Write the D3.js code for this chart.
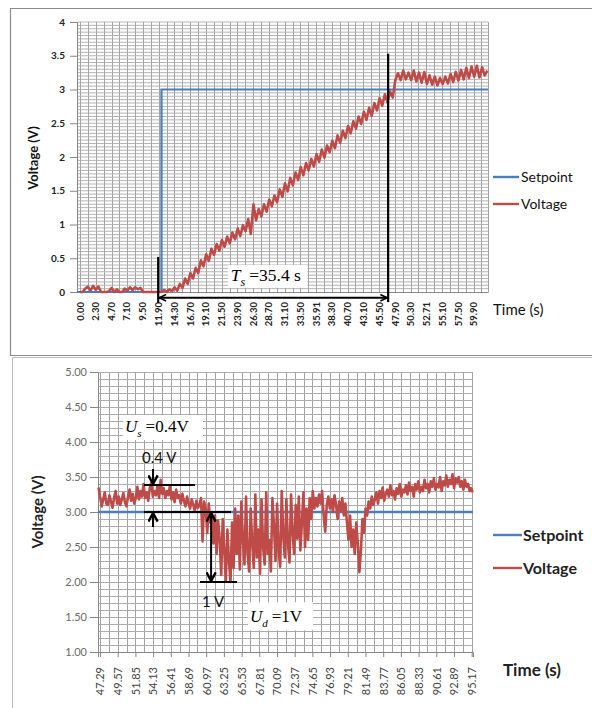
<!DOCTYPE html>
<html lang="en">
<head>
<meta charset="UTF-8">
<script src="https://cdnjs.cloudflare.com/ajax/libs/d3/7.8.5/d3.min.js"></script>
<title>Setpoint / Voltage</title>
<style>
  body { margin: 0; background: #fff; }
  svg { display: block; }
  text { font-family: Lato, "Open Sans", sans-serif; }
  .serif { font-family: "Liberation Serif", "DejaVu Serif", serif; }
</style>
</head>
<body>
<div id="plot"></div>
<script>
// ---- top chart data (step response) ----
var topStep = 0.4; // s between samples
var topVoltage = [
  0, 0, 0.05, 0.08, 0.02, 0.09, 0.03, 0.08, 0, 0, 0, 0.01, 0.06, 0, 0.04, 0, 0, 0.05, 0.02, 0.07,
  0.03, 0.07, 0.04, 0.06, 0, 0, 0, 0, 0, 0, 0,
  0.00, 0.03, 0.00, 0.04, 0.01, 0.07, 0.02, 0.12, 0.06, 0.20, 0.12, 0.28, 0.20, 0.36, 0.28, 0.47,
  0.38, 0.56, 0.46, 0.64, 0.55, 0.71, 0.61, 0.77, 0.67, 0.82, 0.72, 0.88, 0.78, 0.94, 0.83, 0.99,
  0.90, 1.08, 0.86, 1.30, 1.06, 1.23, 1.12, 1.30, 1.19, 1.37, 1.27, 1.43, 1.33, 1.52, 1.41, 1.61,
  1.49, 1.69, 1.58, 1.77, 1.66, 1.85, 1.73, 1.91, 1.80, 1.97, 1.86, 2.04, 1.93, 2.11, 1.99, 2.17,
  2.07, 2.24, 2.13, 2.32, 2.21, 2.39, 2.28, 2.46, 2.35, 2.53, 2.42, 2.60, 2.49, 2.67, 2.55, 2.73,
  2.61, 2.80, 2.69, 2.87, 2.76, 2.93, 2.81, 2.97, 2.88, 3.14,
  3.24, 3.14, 3.28, 3.15, 3.25,
  3.14, 3.28, 3.12, 3.25, 3.10, 3.26, 3.08, 3.21, 3.07, 3.19, 3.06, 3.17, 3.08, 3.19, 3.09, 3.23,
  3.11, 3.26, 3.13, 3.29, 3.15, 3.32, 3.17, 3.34, 3.19, 3.35, 3.18, 3.33, 3.21, 3.28
];
var topSetpoint = [[-0.46, 0], [12.4, 0], [12.4, 3], [62.1, 3]];
var topXTicks = [0.00, 2.30, 4.70, 7.10, 9.50, 11.90, 14.30, 16.70, 19.10, 21.50, 23.90, 26.30, 28.70,
  31.10, 33.50, 35.91, 38.30, 40.70, 43.10, 45.50, 47.90, 50.30, 52.71, 55.10, 57.50, 59.90];
var topYTicks = [0, 0.5, 1, 1.5, 2, 2.5, 3, 3.5, 4];
// annotation: [t, vTop, vBottom]
var tsLines = [[11.9, 0.52, -0.16], [46.9, 3.53, -0.15]];
var tsArrow = [11.9, 46.9, -0.085];
var tsBox = [22.5, 34.6, 0.40, 0.06];

// ---- bottom chart data (disturbance) ----
var botStart = 47.1, botStep = 0.2;
var botVoltage = [
  3.35, 3.22, 3.08, 3.18, 3.28, 3.12, 3.10, 3.24, 3.15, 3.06,
  3.20, 3.30, 3.12, 3.22, 3.10, 3.18, 3.27, 3.14, 3.08, 3.22,
  3.32, 3.16, 3.26, 3.12, 3.20, 3.36, 3.18, 3.30, 3.22, 3.40,
  3.20, 3.28, 3.16, 3.34, 3.42, 3.22, 3.30, 3.24, 3.38, 3.20,
  3.46, 3.26, 3.34, 3.20, 3.30, 3.24, 3.38, 3.18, 3.28, 3.14,
  3.32, 3.20, 3.24, 3.12, 3.26, 3.16, 3.08, 3.22, 3.12, 3.05,
  3.18, 3.10, 3.02, 3.16, 3.06,
  3.10, 3.20, 2.58, 3.15, 3.05, 2.70, 3.12, 2.85, 3.00, 2.55,
  2.95, 2.40, 2.88, 2.62, 2.10, 2.90, 2.45, 2.02, 2.75, 2.30,
  2.00, 2.85, 2.20, 3.05, 2.40,
  2.95, 2.18, 3.15, 2.60, 2.25, 3.22, 2.40, 2.15, 3.05, 2.55,
  2.20, 3.25, 2.35, 2.75, 2.12, 3.18, 2.50, 2.25, 3.28, 2.40,
  2.60, 2.15, 3.20, 2.80, 2.30, 3.12, 2.45, 2.22, 3.30, 2.65,
  2.35, 3.18, 2.55, 2.28, 3.25, 2.70, 2.40, 3.10, 2.62, 3.22,
  2.45, 2.85, 3.28, 2.50, 3.05, 2.60, 3.20, 2.90, 3.30, 3.05,
  3.20,
  3.08, 3.25, 3.12, 3.30, 2.95, 2.72, 3.10, 3.22, 3.05, 3.18,
  3.00, 3.24, 3.10, 2.90, 3.15, 3.02, 3.20, 2.95, 3.12, 2.85,
  2.60,
  2.95, 2.50, 2.75, 2.40, 2.85, 2.55, 2.14, 2.45, 2.90, 2.70,
  3.05, 2.95, 3.15, 3.05, 3.22, 3.10,
  3.18, 3.28, 3.12, 3.30, 3.20, 3.35, 3.16, 3.26, 3.32, 3.22,
  3.38, 3.24, 3.30, 3.18, 3.34, 3.26, 3.40, 3.22, 3.32, 3.28,
  3.38, 3.25, 3.42, 3.30, 3.36, 3.22, 3.40, 3.32, 3.44, 3.28,
  3.36, 3.30, 3.46, 3.34, 3.40, 3.28, 3.44, 3.36, 3.48, 3.32,
  3.40, 3.35, 3.50, 3.30, 3.44, 3.38, 3.52, 3.36, 3.46, 3.40,
  3.54, 3.34, 3.48, 3.42, 3.50, 3.36, 3.44, 3.32, 3.46, 3.36,
  3.40, 3.30, 3.34, 3.28
];
var botSetpoint = [[47.03, 3], [95.34, 3]];
var botXTicks = [47.29, 49.57, 51.85, 54.13, 56.41, 58.69, 60.97, 63.25, 65.53, 67.81, 70.09,
  72.37, 74.65, 76.93, 79.21, 81.49, 83.77, 86.05, 88.33, 90.61, 92.89, 95.17];
var botYTicks = [1, 1.5, 2, 2.5, 3, 3.5, 4, 4.5, 5];
// annotation levels
var usLevels = [3.386, 3.0];        // overshoot band
var usSpan = [52.96, 59.53, 64.16]; // t start, end of top line, end of 3.0 line
var usArrowT = 54.12;
var udSpan = [60.17, 64.94];        // 2.0 V line
var udArrowT = 61.6;
var udLevel = 2.0;
var usBox = [50.25, 60.56, 4.386, 4.03];
var udBox = [66.35, 74.73, 1.71, 1.31];

var blue = "#4a7ebb", red = "#be4b48", gridC = "#a2a2a2", axisC = "#868686";

var svg = d3.select("#plot").append("svg").attr("width", 592).attr("height", 708);

var defs = svg.append("defs");
defs.append("marker").attr("id", "chevS")
  .attr("viewBox", "0 0 10 10").attr("refX", 9.5).attr("refY", 5)
  .attr("markerWidth", 8).attr("markerHeight", 8).attr("markerUnits", "userSpaceOnUse")
  .attr("orient", "auto-start-reverse")
  .append("path").attr("d", "M1,1 L9.5,5 L1,9").attr("fill", "none").attr("stroke", "#000").attr("stroke-width", 2);
defs.append("marker").attr("id", "chevL")
  .attr("viewBox", "0 0 10 10").attr("refX", 9.3).attr("refY", 5)
  .attr("markerWidth", 11).attr("markerHeight", 11).attr("markerUnits", "userSpaceOnUse")
  .attr("orient", "auto-start-reverse")
  .append("path").attr("d", "M1.5,0.8 L9.3,5 L1.5,9.2").attr("fill", "none").attr("stroke", "#000").attr("stroke-width", 2.2);

// frames
svg.append("path").attr("d", "M10.5,356 V8.5 H592").attr("fill", "none").attr("stroke", "#8c8c8c").attr("stroke-width", 1.2);
svg.append("path").attr("d", "M10,355.5 H592").attr("fill", "none").attr("stroke", "#8c8c8c").attr("stroke-width", 1.2);
svg.append("path").attr("d", "M12.5,708 V357.5 H592").attr("fill", "none").attr("stroke", "#bdbdbd").attr("stroke-width", 1);

// ================= TOP CHART =================
var xTop = d3.scaleLinear().domain([-0.46, 62.1]).range([77, 488]);
var yTop = d3.scaleLinear().domain([0, 4]).range([292, 22]);
var gT = svg.append("g");

// grid
var vT = d3.range(0, 52).map(function (k) { return k * 1.198; }).concat([62.1]);
gT.append("g").selectAll("line").data(vT).enter().append("line")
  .attr("x1", function (d) { return Math.round(xTop(d)) + 0.5; })
  .attr("x2", function (d) { return Math.round(xTop(d)) + 0.5; })
  .attr("y1", yTop(4)).attr("y2", yTop(0))
  .attr("stroke", gridC).attr("stroke-width", 1);
var hT = d3.range(1, 81).map(function (k) { return k * 0.05; });
gT.append("g").selectAll("line").data(hT).enter().append("line")
  .attr("x1", xTop.range()[0]).attr("x2", xTop.range()[1])
  .attr("y1", function (d) { return yTop(d); }).attr("y2", function (d) { return yTop(d); })
  .attr("stroke", "#acacac").attr("stroke-width", 0.9);

// axes
var yAxT = gT.append("g").attr("transform", "translate(77,0)")
  .call(d3.axisLeft(yTop).tickValues(topYTicks).tickFormat(function (d) { return String(d); }).tickSize(7).tickPadding(5));
yAxT.selectAll("text").attr("font-size", 10).attr("font-weight", "bold").attr("fill", "#222");
var xAxT = gT.append("g").attr("transform", "translate(0,292)")
  .call(d3.axisBottom(xTop).tickValues(topXTicks).tickFormat(d3.format(".2f")).tickSize(0));
xAxT.selectAll("text").attr("transform", "rotate(-90)").attr("text-anchor", "end")
  .attr("x", -10).attr("y", 0).attr("dy", "0.35em")
  .attr("font-size", 9.5).attr("font-weight", "bold").attr("fill", "#222");
gT.selectAll(".domain, .tick line").attr("stroke", axisC);

// series
var lineT = d3.line().x(function (d) { return xTop(d[0]); }).y(function (d) { return yTop(d[1]); });
gT.append("path").datum(topSetpoint).attr("d", lineT)
  .attr("fill", "none").attr("stroke", blue).attr("stroke-width", 2.2);
gT.append("path").datum(topVoltage.map(function (v, i) { return [i * topStep, v]; })).attr("d", lineT)
  .attr("fill", "none").attr("stroke", red).attr("stroke-width", 2.6).attr("stroke-linejoin", "round");

// annotation
gT.selectAll(".tsl").data(tsLines).enter().append("line")
  .attr("x1", function (d) { return xTop(d[0]); }).attr("x2", function (d) { return xTop(d[0]); })
  .attr("y1", function (d) { return yTop(d[1]); }).attr("y2", function (d) { return yTop(d[2]); })
  .attr("stroke", "#000").attr("stroke-width", 2.2);
gT.append("line")
  .attr("x1", xTop(tsArrow[0]) + 1).attr("x2", xTop(tsArrow[1]) - 1)
  .attr("y1", yTop(tsArrow[2])).attr("y2", yTop(tsArrow[2]))
  .attr("stroke", "#000").attr("stroke-width", 2)
  .attr("marker-start", "url(#chevS)").attr("marker-end", "url(#chevS)");
gT.append("rect")
  .attr("x", xTop(tsBox[0])).attr("y", yTop(tsBox[2]))
  .attr("width", xTop(tsBox[1]) - xTop(tsBox[0])).attr("height", yTop(tsBox[3]) - yTop(tsBox[2]))
  .attr("fill", "#fff");
var tsT = gT.append("text").attr("class", "serif")
  .attr("x", xTop(tsBox[0]) + 3).attr("y", yTop(tsBox[3]) - 7).attr("font-size", 17.5).attr("fill", "#000");
tsT.append("tspan").attr("font-style", "italic").text("T");
tsT.append("tspan").attr("font-style", "italic").attr("font-size", 12).attr("dy", 5).text("s");
tsT.append("tspan").attr("dy", -5).attr("dx", 4).text("=35.4 s");

// legend + x title
var legT = [["Setpoint", blue, 177], ["Voltage", red, 204]];
legT.forEach(function (l) {
  gT.append("line").attr("x1", 493).attr("x2", 519).attr("y1", l[2]).attr("y2", l[2])
    .attr("stroke", l[1]).attr("stroke-width", 2.4);
  gT.append("text").attr("x", 521).attr("y", l[2] + 5).attr("font-size", 14).attr("fill", "#111").text(l[0]);
});
gT.append("text").attr("x", 493).attr("y", 315).attr("font-size", 15).attr("fill", "#111").text("Time (s)");
gT.append("text").attr("transform", "translate(38,158) rotate(-90)").attr("text-anchor", "middle")
  .attr("font-size", 13).attr("font-weight", "bold").attr("fill", "#111").text("Voltage (V)");

// ================= BOTTOM CHART =================
var xBot = d3.scaleLinear().domain([47.03, 95.34]).range([98, 473]);
var yBot = d3.scaleLinear().domain([1, 5]).range([652, 372]);
var gB = svg.append("g");

var vB = d3.range(0, 43).map(function (k) { return 47.29 + k * 1.14; });
gB.append("g").selectAll("line").data(vB).enter().append("line")
  .attr("x1", function (d) { return Math.round(xBot(d)) + 0.5; })
  .attr("x2", function (d) { return Math.round(xBot(d)) + 0.5; })
  .attr("y1", yBot(5)).attr("y2", yBot(1))
  .attr("stroke", gridC).attr("stroke-width", 1);
var hB = d3.range(1, 41).map(function (k) { return 1 + k * 0.1; });
gB.append("g").selectAll("line").data(hB).enter().append("line")
  .attr("x1", xBot.range()[0]).attr("x2", xBot.range()[1])
  .attr("y1", function (d) { return Math.round(yBot(d)) + 0.5; })
  .attr("y2", function (d) { return Math.round(yBot(d)) + 0.5; })
  .attr("stroke", "#acacac").attr("stroke-width", 1);

var yAxB = gB.append("g").attr("transform", "translate(98,0)")
  .call(d3.axisLeft(yBot).tickValues(botYTicks).tickFormat(d3.format(".2f")).tickSize(8).tickPadding(3));
yAxB.selectAll("text").attr("font-size", 11).attr("fill", "#6a6a6a");
var xAxB = gB.append("g").attr("transform", "translate(0,652)")
  .call(d3.axisBottom(xBot).tickValues(botXTicks).tickFormat(d3.format(".2f")).tickSize(5));
xAxB.selectAll("text").attr("transform", "rotate(-90)").attr("text-anchor", "end")
  .attr("x", -15).attr("y", 0).attr("dy", "0.35em")
  .attr("font-size", 11).attr("fill", "#444");
gB.selectAll(".domain, .tick line").attr("stroke", axisC);

var lineB = d3.line().x(function (d) { return xBot(d[0]); }).y(function (d) { return yBot(d[1]); });
gB.append("path").datum(botSetpoint).attr("d", lineB)
  .attr("fill", "none").attr("stroke", blue).attr("stroke-width", 2.4);
gB.append("path").datum(botVoltage.map(function (v, i) { return [botStart + i * botStep, v]; })).attr("d", lineB)
  .attr("fill", "none").attr("stroke", red).attr("stroke-width", 2.6).attr("stroke-linejoin", "round");

// overshoot / undershoot annotations
gB.append("line").attr("x1", xBot(usSpan[0])).attr("x2", xBot(usSpan[1]))
  .attr("y1", yBot(usLevels[0])).attr("y2", yBot(usLevels[0])).attr("stroke", "#000").attr("stroke-width", 2);
gB.append("line").attr("x1", xBot(usSpan[0])).attr("x2", xBot(usSpan[2]))
  .attr("y1", yBot(usLevels[1])).attr("y2", yBot(usLevels[1])).attr("stroke", "#000").attr("stroke-width", 2);
gB.append("line").attr("x1", xBot(usArrowT)).attr("x2", xBot(usArrowT))
  .attr("y1", yBot(usLevels[0]) - 16).attr("y2", yBot(usLevels[0]) - 1)
  .attr("stroke", "#000").attr("stroke-width", 2).attr("marker-end", "url(#chevL)");
gB.append("line").attr("x1", xBot(usArrowT)).attr("x2", xBot(usArrowT))
  .attr("y1", yBot(usLevels[1]) + 15).attr("y2", yBot(usLevels[1]) + 1)
  .attr("stroke", "#000").attr("stroke-width", 2).attr("marker-end", "url(#chevL)");
gB.append("line").attr("x1", xBot(udSpan[0])).attr("x2", xBot(udSpan[1]))
  .attr("y1", yBot(udLevel)).attr("y2", yBot(udLevel)).attr("stroke", "#000").attr("stroke-width", 2);
gB.append("line").attr("x1", xBot(udArrowT)).attr("x2", xBot(udArrowT))
  .attr("y1", yBot(usLevels[1]) + 1).attr("y2", yBot(udLevel) - 1)
  .attr("stroke", "#000").attr("stroke-width", 2)
  .attr("marker-start", "url(#chevL)").attr("marker-end", "url(#chevL)");
gB.append("text").attr("x", xBot(usArrowT) - 11).attr("y", yBot(usLevels[0]) - 22)
  .attr("font-size", 15).attr("fill", "#111").text("0.4 V");
gB.append("text").attr("x", xBot(udSpan[0]) + 2).attr("y", yBot(udLevel) + 25)
  .attr("font-size", 15).attr("fill", "#111").text("1 V");

[[usBox, "U", "s", "=0.4V"], [udBox, "U", "d", "=1V"]].forEach(function (b) {
  var bx = b[0];
  gB.append("rect").attr("x", xBot(bx[0])).attr("y", yBot(bx[2]))
    .attr("width", xBot(bx[1]) - xBot(bx[0])).attr("height", yBot(bx[3]) - yBot(bx[2]))
    .attr("fill", "#fff");
  var t = gB.append("text").attr("class", "serif")
    .attr("x", xBot(bx[0]) + 2).attr("y", yBot(bx[3]) - 8).attr("font-size", 17).attr("fill", "#000");
  t.append("tspan").attr("font-style", "italic").text(b[1]);
  t.append("tspan").attr("font-style", "italic").attr("font-size", 11).attr("dy", 5).text(b[2]);
  t.append("tspan").attr("dy", -5).attr("dx", 4).text(b[3]);
});

var legB = [["Setpoint", blue, 535], ["Voltage", red, 568]];
legB.forEach(function (l) {
  gB.append("line").attr("x1", 493).attr("x2", 522).attr("y1", l[2]).attr("y2", l[2])
    .attr("stroke", l[1]).attr("stroke-width", 2.4);
  gB.append("text").attr("x", 523).attr("y", l[2] + 6).attr("font-size", 16).attr("font-weight", "bold")
    .attr("fill", "#222").text(l[0]);
});
gB.append("text").attr("x", 503).attr("y", 676).attr("font-size", 17).attr("font-weight", "bold")
  .attr("fill", "#222").text("Time (s)");
gB.append("text").attr("transform", "translate(43,512) rotate(-90)").attr("text-anchor", "middle")
  .attr("font-size", 15).attr("font-weight", "bold").attr("fill", "#222").text("Voltage (V)");
</script>
</body>
</html>
